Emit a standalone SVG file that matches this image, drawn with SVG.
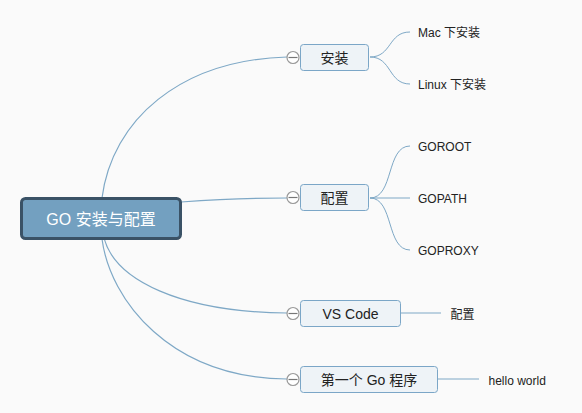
<svg xmlns="http://www.w3.org/2000/svg" width="582" height="413" viewBox="0 0 582 413">
<style>
.bg{fill:#fafafa}
.conn{fill:none;stroke:#7ea8c6;stroke-width:1.2}
.sub{fill:none;stroke:#7ea8c6;stroke-width:1}
.topic{fill:#eef3f7;stroke:#7ba6c7;stroke-width:1}
.root{fill:#73a0c0;stroke:#3a5266;stroke-width:3}
.t{font-family:"Liberation Sans","Noto Sans CJK SC",sans-serif;fill:#222}
.tn{font-size:14px;text-anchor:middle}
.tl{font-size:12px}
.tr{font-size:16px;fill:#fff;text-anchor:middle}
.col circle{fill:#fff;stroke:#999;stroke-width:1.2}
.col line{stroke:#777;stroke-width:1.2}
</style>
<rect class="bg" x="0" y="0" width="582" height="413"/>
<g id="connectors">
<path class="conn" d="M102,198 C112,120 180,60 287,57"/>
<path class="conn" d="M181,202 Q240,198 287,198"/>
<path class="conn" d="M104,238 C115,280 180,312 287,313"/>
<path class="conn" d="M102,239 C110,300 170,378 287,379"/>
<path class="sub" d="M370,57 C392,57 388,32 410,32"/>
<path class="sub" d="M370,57 C392,57 388,84 410,84"/>
<path class="sub" d="M370,198 C394,198 386,146 410,146"/>
<path class="sub" d="M370,198 L410,198"/>
<path class="sub" d="M370,198 C394,198 386,250 410,250"/>
<path class="sub" d="M401,313 L441,313"/>
<path class="sub" d="M438,379 L479,379"/>
</g>
<g id="root">
<rect class="root" x="21.5" y="198.5" width="159" height="40" rx="4"/>
<text class="t tr" x="101" y="224.5">GO 安装与配置</text>
</g>
<g id="n-install">
<g class="col"><circle cx="293" cy="57.5" r="6"/><line x1="288.5" y1="57.5" x2="297.5" y2="57.5"/></g>
<rect class="topic" x="300.5" y="44.5" width="68" height="26" rx="3"/>
<text class="t tn" x="334.5" y="62.5">安装</text>
</g>
<g id="n-mac"><text class="t tl" x="418" y="37">Mac 下安装</text></g>
<g id="n-linux"><text class="t tl" x="418" y="88.5">Linux 下安装</text></g>
<g id="n-config">
<g class="col"><circle cx="293" cy="197.5" r="6"/><line x1="288.5" y1="197.5" x2="297.5" y2="197.5"/></g>
<rect class="topic" x="300.5" y="184.5" width="68" height="26" rx="3"/>
<text class="t tn" x="334.5" y="202.5">配置</text>
</g>
<g id="n-goroot"><text class="t tl" x="418" y="150.5">GOROOT</text></g>
<g id="n-gopath"><text class="t tl" x="418" y="202.5">GOPATH</text></g>
<g id="n-goproxy"><text class="t tl" x="418" y="254.5">GOPROXY</text></g>
<g id="n-vscode">
<g class="col"><circle cx="293" cy="313.5" r="6"/><line x1="288.5" y1="313.5" x2="297.5" y2="313.5"/></g>
<rect class="topic" x="300.5" y="300.5" width="100" height="26" rx="3"/>
<text class="t tn" x="350.5" y="318.5">VS Code</text>
</g>
<g id="n-vsconfig"><text class="t tl" x="450.5" y="319">配置</text></g>
<g id="n-first">
<g class="col"><circle cx="293" cy="379.5" r="6"/><line x1="288.5" y1="379.5" x2="297.5" y2="379.5"/></g>
<rect class="topic" x="300.5" y="366.5" width="137" height="26" rx="3"/>
<text class="t tn" x="369" y="384.5">第一个 Go 程序</text>
</g>
<g id="n-hello"><text class="t tl" x="488.5" y="385">hello world</text></g>
</svg>
